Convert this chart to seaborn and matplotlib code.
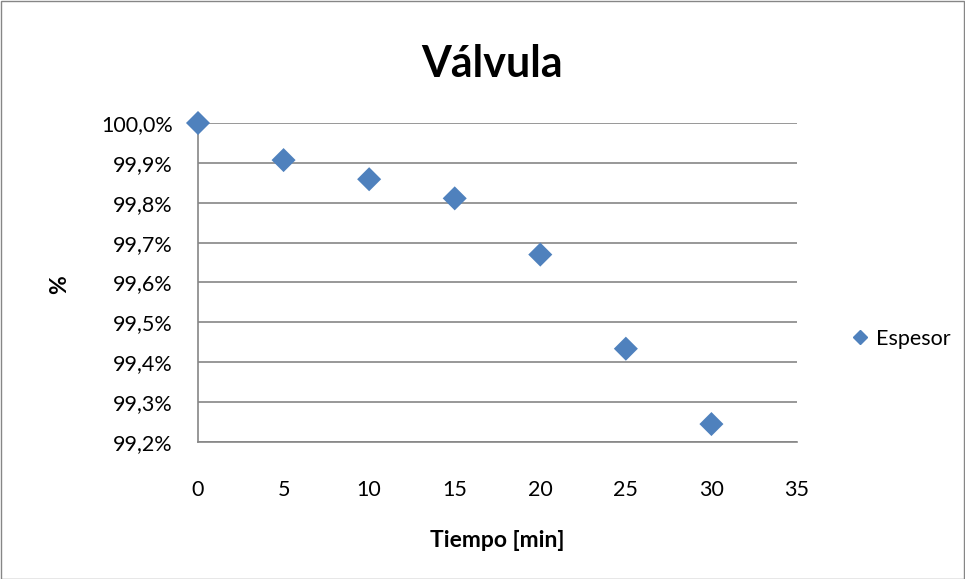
import matplotlib
matplotlib.use("Agg")
import matplotlib.pyplot as plt
import seaborn as sns
import pandas as pd
from matplotlib.ticker import FuncFormatter, MultipleLocator
from matplotlib.lines import Line2D
from matplotlib.patches import Rectangle

tiempo = [0, 5, 10, 15, 20, 25, 30]
espesor = [100.0, 99.907, 99.859, 99.811, 99.670, 99.434, 99.245]
series_name = "Espesor"
title = "Válvula"
xlabel = "Tiempo [min]"
ylabel = "%"

sns.set_theme(style="white")
plt.rcParams['font.family'] = ['Lato', 'DejaVu Sans']
plt.rcParams['text.color'] = 'black'

df = pd.DataFrame({"t": tiempo, "v": espesor})

W, H = 965, 579
fig = plt.figure(figsize=(W/100, H/100), dpi=100)
ax = fig.add_axes([198/W, 1-442/H, (797-198)/W, (442-123)/H])

grid_c = "#868686"
ax.set_ylim(99.2, 100.0)
ax.set_xlim(0, 35)
ax.yaxis.set_major_locator(MultipleLocator(0.1))
ax.xaxis.set_major_locator(MultipleLocator(5))
ax.yaxis.set_major_formatter(FuncFormatter(lambda v, p: f"{v:.1f}%".replace(".", ",")))
ax.grid(axis="y", color=grid_c, linewidth=1.2)
ax.set_axisbelow(True)
for s in ["top", "right"]:
    ax.spines[s].set_visible(False)
for s in ["left", "bottom"]:
    ax.spines[s].set_color(grid_c)
    ax.spines[s].set_linewidth(1.2)
ax.tick_params(axis="both", length=0, labelsize=15.5, colors="black", labelcolor="black")
ax.tick_params(axis="y", pad=18)
ax.tick_params(axis="x", pad=27)

sns.scatterplot(data=df, x="t", y="v", marker="D", s=150, color="#4F81BD",
                edgecolor="none", ax=ax, clip_on=False, zorder=5, legend=False)

ax.set_xlabel("")
ax.set_ylabel("")
fig.text(497/W, 1-547/H, xlabel, ha="center", va="baseline", fontsize=16.5, fontweight="bold", color="black")
fig.text(60/W, 1-285/H, ylabel, ha="center", va="center", rotation=90, fontsize=16.5, fontweight="bold", color="black")
fig.text(492/W, 1-77/H, title, ha="center", va="baseline", fontsize=31, fontweight="bold", color="black")

handle = Line2D([], [], marker="D", linestyle="none", color="#4F81BD", markersize=7.5)
leg = fig.legend([handle], [series_name], loc="center left",
                 bbox_to_anchor=(854/W, 1-339/H), frameon=False,
                 fontsize=15.5, handlelength=0.6, handletextpad=0.4, borderaxespad=0, borderpad=0,
                 labelcolor="black")

fig.patches.append(Rectangle((0.5/W, 0.5/H), 1-1.5/W, 1-1.5/H, transform=fig.transFigure,
                             fill=False, edgecolor="#868686", linewidth=1))
fig.savefig("out.png", dpi=100)
